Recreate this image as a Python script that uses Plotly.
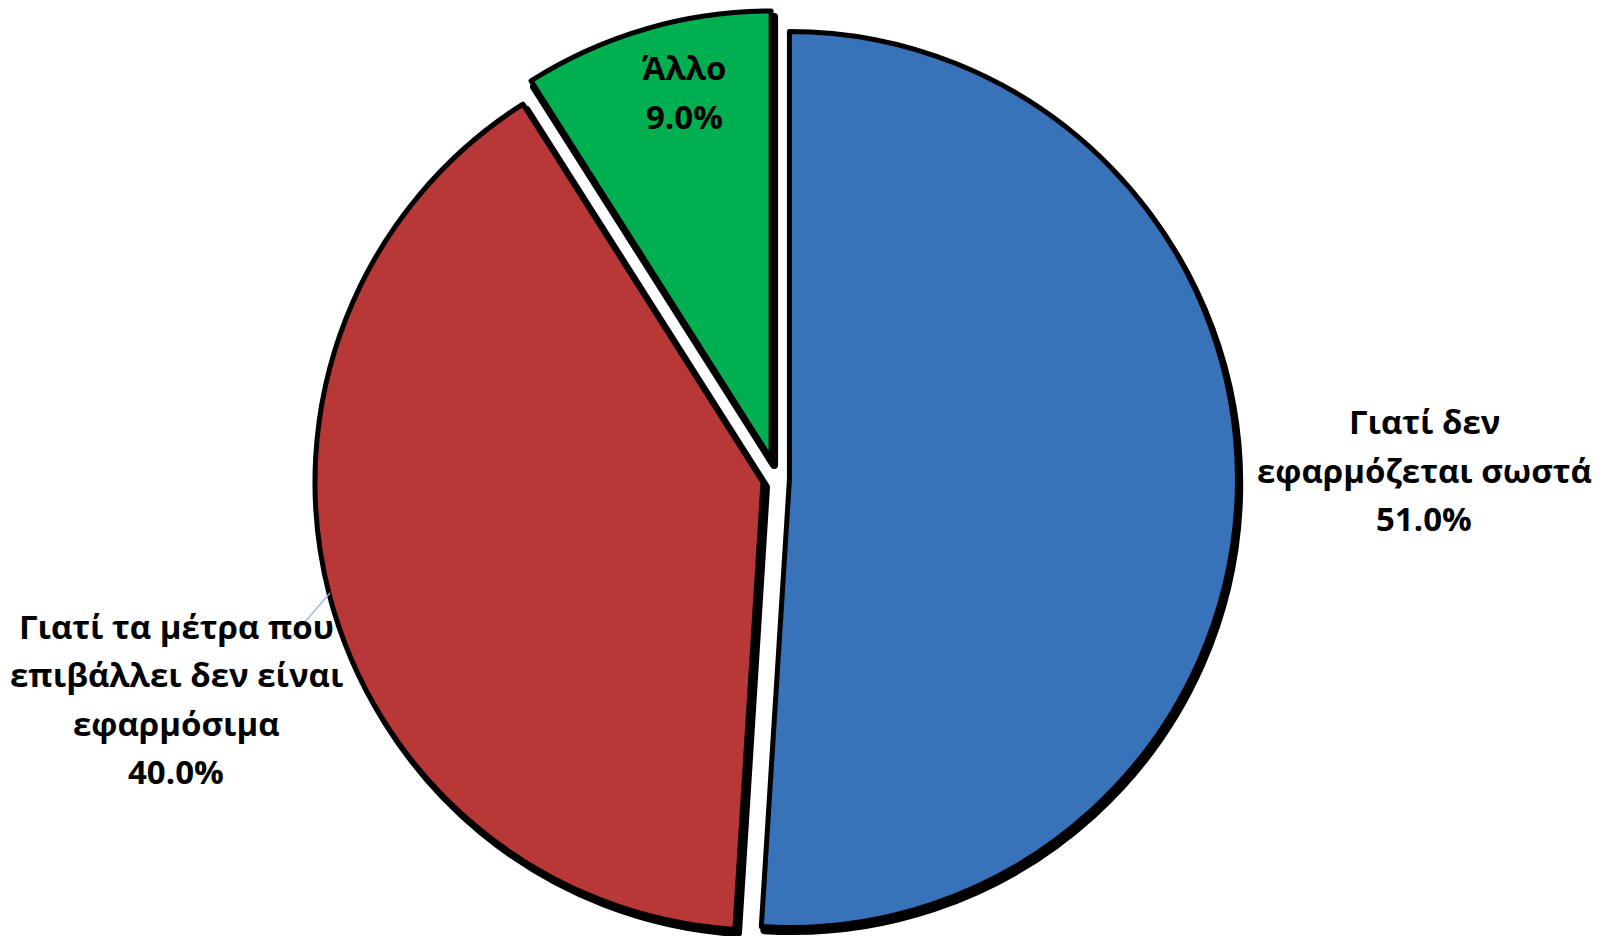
import plotly.graph_objects as go

# ---- data ----
labels = ["Γιατί δεν<br>εφαρμόζεται σωστά",
          "Γιατί τα μέτρα που<br>επιβάλλει δεν είναι<br>εφαρμόσιμα",
          "Άλλο"]
values = [51.0, 40.0, 9.0]
colors = ["#3872B9", "#B73836", "#00B050"]

total = sum(values)
pct_text = [f"{v / total * 100:.1f}%" for v in values]

# ---- layout constants (screen pixels) ----
W, H = 1612, 936
OFF = 8                # default page (body) margin around the figure
R = 448.0              # pie radius
CX, CY = 776.0, 479.0  # pie centre on screen
PULL = 0.03            # explode of the two big slices
GREEN_SHIFT = (-4.9, -20.0)  # extra explode of the small slice
SHADOW = (3.0, 6.0)
TRANSP = "rgba(0,0,0,0)"


def domain_for(cx, cy, r, pull):
    cx, cy = cx - OFF, cy - OFF
    half_h = r * (1 + pull)
    y0 = 1 - (cy + half_h) / H
    y1 = 1 - (cy - half_h) / H
    xc = cx / W
    hw = min(xc, 1 - xc) * 0.999
    return dict(x=[xc - hw, xc + hw], y=[max(0, y0), min(1, y1)])


names = [l.replace("<br>", " ") for l in labels]
common = dict(labels=names, values=values, sort=False, direction="clockwise",
              rotation=0, textinfo="none", hoverinfo="skip", showlegend=False)

big_mask = [1, 1, 0]
small_mask = [0, 0, 1]

fig = go.Figure()
# shadows
fig.add_trace(go.Pie(**common, pull=[PULL] * 3,
                     marker=dict(colors=["black" if m else TRANSP for m in big_mask],
                                 line=dict(color="black", width=[8 * m for m in big_mask])),
                     domain=domain_for(CX + SHADOW[0], CY + SHADOW[1], R, PULL)))
fig.add_trace(go.Pie(**common, pull=[0] * 3,
                     marker=dict(colors=["black" if m else TRANSP for m in small_mask],
                                 line=dict(color="black", width=[8 * m for m in small_mask])),
                     domain=domain_for(CX + GREEN_SHIFT[0] + SHADOW[0],
                                       CY + GREEN_SHIFT[1] + SHADOW[1], R, 0)))
# main slices
fig.add_trace(go.Pie(**common, pull=[PULL] * 3,
                     marker=dict(colors=[c if m else TRANSP for c, m in zip(colors, big_mask)],
                                 line=dict(color="black", width=[5 * m for m in big_mask])),
                     domain=domain_for(CX, CY, R, PULL)))
fig.add_trace(go.Pie(**common, pull=[0] * 3,
                     marker=dict(colors=[c if m else TRANSP for c, m in zip(colors, small_mask)],
                                 line=dict(color="black", width=[5 * m for m in small_mask])),
                     domain=domain_for(CX + GREEN_SHIFT[0], CY + GREEN_SHIFT[1], R, 0)))

# ---- labels ----
FONT = dict(family="Open Sans", size=33, color="black")
PITCH = 48.5
label_pos = [(1424, 470), (176, 699), (684, 92)]
for lab, pt, (px, py) in zip(labels, pct_text, label_pos):
    lines = lab.split("<br>") + [pt]
    n = len(lines)
    for i, ln in enumerate(lines):
        fig.add_annotation(
            x=(px - OFF) / W, y=1 - (py - OFF) / H, xref="paper", yref="paper",
            text=f"<b>{ln}</b>", showarrow=False,
            xanchor="center", yanchor="middle",
            yshift=((n - 1) / 2 - i) * PITCH,
            font=FONT,
        )


def pt_(x, y):
    return f"{(x - OFF) / W} {1 - (y - OFF) / H}"


fig.add_shape(type="path", xref="paper", yref="paper",
              path=f"M {pt_(330, 593)} L {pt_(290, 639)} L {pt_(282, 639)}",
              line=dict(color="#8EB4E3", width=1.2))

fig.update_layout(
    width=W, height=H,
    margin=dict(l=0, r=0, t=0, b=0),
    paper_bgcolor="white", plot_bgcolor="white",
)

fig.write_html("out.html")
